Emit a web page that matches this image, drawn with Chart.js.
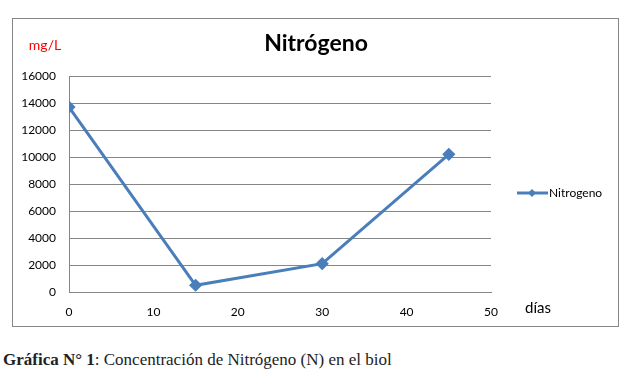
<!DOCTYPE html>
<html>
<head>
<meta charset="utf-8">
<script src="https://cdn.jsdelivr.net/npm/chart.js@4/dist/chart.umd.min.js"></script>
<style>
  html, body { margin: 0; padding: 0; background: #fff; }
  #wrap { position: relative; width: 625px; height: 379px; }
  #grafico { position: absolute; left: 0; top: 0; }
  #leyenda {
    position: absolute; left: 3px; top: 350px;
    font-family: "Liberation Serif", serif; font-size: 17px; color: #222;
    white-space: nowrap;
  }
</style>
</head>
<body>
<div id="wrap">
  <canvas id="grafico" width="625" height="335"></canvas>
  <div id="leyenda"><b>Gráfica N° 1</b>: Concentración de Nitrógeno (N) en el biol</div>
</div>
<script>
// ── Datos ──────────────────────────────────────────────────────────────────────
const dias = [0, 15, 30, 45];
const nitrogeno = [13700, 500, 2100, 10200];
const ticksY = [0, 2000, 4000, 6000, 8000, 10000, 12000, 14000, 16000];
const ticksX = [0, 10, 20, 30, 40, 50];

const AZUL = "#4a7ebb";
const GRIS = "#868686";

// ── Textos y marco ─────────────────────────────────────────────────────────────
const extras = {
  id: "extras",
  afterDraw(chart) {
    const ctx = chart.ctx;
    ctx.save();
    // marco
    ctx.strokeStyle = GRIS;
    ctx.lineWidth = 1;
    ctx.strokeRect(12.5, 18.5, 606, 308);

    ctx.textBaseline = "middle";
    // título
    ctx.fillStyle = "#000";
    ctx.font = "bold 23px Lato";
    ctx.textAlign = "center";
    ctx.fillText("Nitrógeno", 316, 44);
    // unidad
    ctx.fillStyle = "#ff0000";
    ctx.font = "14px Lato";
    ctx.fillText("mg/L", 45, 45);
    // eje x
    ctx.fillStyle = "#000";
    ctx.font = "15px Lato";
    ctx.textAlign = "left";
    ctx.fillText("días", 525, 308);

    // leyenda
    const y = 193;
    ctx.strokeStyle = AZUL;
    ctx.lineWidth = 3;
    ctx.beginPath();
    ctx.moveTo(517, y);
    ctx.lineTo(548, y);
    ctx.stroke();
    ctx.fillStyle = AZUL;
    ctx.beginPath();
    ctx.moveTo(532, y - 4);
    ctx.lineTo(536, y);
    ctx.lineTo(532, y + 4);
    ctx.lineTo(528, y);
    ctx.closePath();
    ctx.fill();
    ctx.fillStyle = "#000";
    ctx.font = "12px Lato";
    ctx.fillText(chart.data.datasets[0].label, 549, y);
    ctx.restore();
  }
};

// ── Gráfico ────────────────────────────────────────────────────────────────────
new Chart(document.getElementById("grafico"), {
  type: "line",
  data: {
    datasets: [{
      label: "Nitrogeno",
      data: dias.map((d, i) => ({ x: d, y: nitrogeno[i] })),
      borderColor: AZUL,
      backgroundColor: AZUL,
      borderWidth: 3,
      pointStyle: "rectRot",
      pointRadius: 4.5,
      tension: 0
    }]
  },
  options: {
    responsive: false,
    animation: false,
    layout: { padding: { left: 12, top: 76, right: 134, bottom: 8 } },
    plugins: { legend: { display: false }, tooltip: { enabled: false } },
    scales: {
      x: {
        type: "linear",
        min: 0, max: 50,
        afterBuildTicks: s => { s.ticks = ticksX.map(v => ({ value: v })); },
        afterFit: s => { s.height = 35; },
        grid: { display: false, drawTicks: false },
        border: { color: GRIS, width: 1 },
        ticks: { color: "#000", font: { family: "Lato", size: 12 }, padding: 13, maxRotation: 0,
                 callback: v => String(v) }
      },
      y: {
        min: 0, max: 16000,
        afterBuildTicks: s => { s.ticks = ticksY.map(v => ({ value: v })); },
        afterFit: s => { s.width = 57; },
        grid: { color: GRIS, drawTicks: false },
        border: { color: GRIS, width: 1 },
        ticks: { color: "#000", font: { family: "Lato", size: 12 }, padding: 13,
                 callback: v => String(v) }
      }
    }
  },
  plugins: [extras]
});
</script>
</body>
</html>
